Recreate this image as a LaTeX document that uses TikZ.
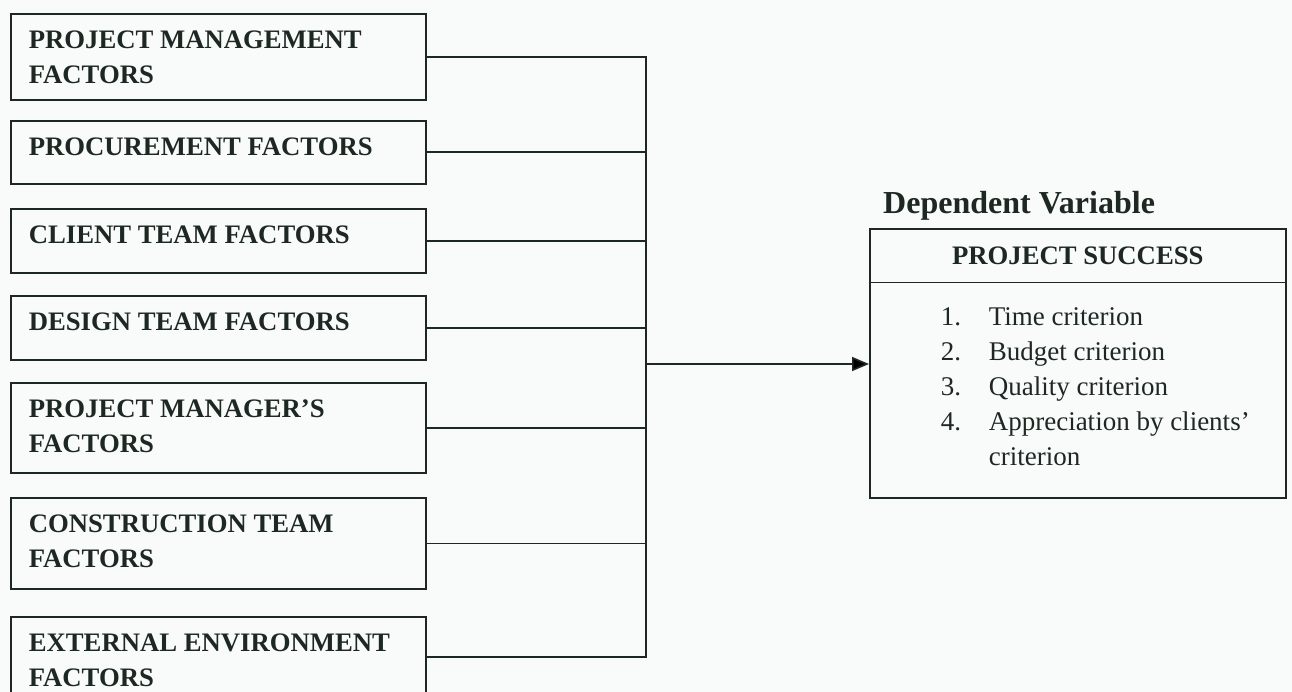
\documentclass[tikz,border=0pt]{standalone}
\usepackage{fontspec}
\setmainfont{Liberation Serif}
\usetikzlibrary{arrows.meta,shapes.multipart}
\definecolor{ink}{RGB}{30,40,34}
\definecolor{paper}{RGB}{249,251,251}
\newcommand{\factortext}[2]{\parbox[c][#1][t]{379pt}{\raggedright\rule{0pt}{35pt}#2}}
\newcommand{\crit}[2]{\hspace*{71pt}\makebox[48pt][l]{#1}#2}

\begin{document}
\begin{tikzpicture}[x=1pt, y=-1pt]
  \tikzstyle{factor}=[draw=ink, line width=1.6pt, anchor=north west, inner xsep=18pt, inner ysep=0pt, text=ink, font=\bfseries\fontsize{26.7}{35}\selectfont]
  \tikzstyle{link}=[draw=ink, line width=1.6pt, line cap=rect]

  \fill[paper] (0,0) rectangle (1292,692);
  \useasboundingbox (0,0) rectangle (1292,692);

  \node[factor] (pm)        at (10, 13)  {\factortext{86pt}{PROJECT MANAGEMENT\\FACTORS}};
  \node[factor] (proc)      at (10, 120) {\factortext{63pt}{PROCUREMENT FACTORS}};
  \node[factor] (client)    at (10, 208) {\factortext{64pt}{CLIENT TEAM FACTORS}};
  \node[factor] (design)    at (10, 295) {\factortext{64pt}{DESIGN TEAM FACTORS}};
  \node[factor] (manager)   at (10, 382) {\factortext{90pt}{PROJECT MANAGER’S\\FACTORS}};
  \node[factor] (construct) at (10, 497) {\factortext{91pt}{CONSTRUCTION TEAM\\FACTORS}};
  \node[factor] (external)  at (10, 616) {\factortext{80pt}{EXTERNAL ENVIRONMENT\\FACTORS}};

  \node[anchor=base west, inner sep=0pt, text=ink, font=\bfseries\fontsize{32}{38}\selectfont] (dv) at (883, 214) {Dependent Variable};
  \node[draw=ink, line width=1.6pt, rectangle split, rectangle split parts=2, inner sep=0pt, anchor=north west, text=ink, font=\fontsize{27}{35}\selectfont] (success) at (869, 228)
    {\parbox[c][52pt][t]{416pt}{\centering\bfseries\fontsize{26.7}{35}\selectfont\rule{0pt}{35pt}PROJECT SUCCESS}
     \nodepart{two}\parbox[c][214pt][t]{416pt}{\raggedright\rule{0pt}{42pt}\crit{1.}{Time criterion}\\
       \crit{2.}{Budget criterion}\\
       \crit{3.}{Quality criterion}\\
       \crit{4.}{Appreciation by clients’}\\
       \crit{}{criterion}}};

  \coordinate (bus) at (646, 364);

  \draw[link] (pm.east)        -- (pm.east -| bus);
  \draw[link] (proc.east)      -- (proc.east -| bus);
  \draw[link] (client.east)    -- (client.east -| bus);
  \draw[link] (design.east)    -- (design.east -| bus);
  \draw[link] (manager.east)   -- (manager.east -| bus);
  \draw[link] (construct.east) -- (construct.east -| bus);
  \draw[link] (external.east)  -- (external.east -| bus);
  \draw[link] (pm.east -| bus) -- (external.east -| bus);
  \draw[link, line cap=butt, -{Triangle[length=17pt, width=14pt]}] (bus) -- (bus -| success.west);
\end{tikzpicture}
\end{document}
